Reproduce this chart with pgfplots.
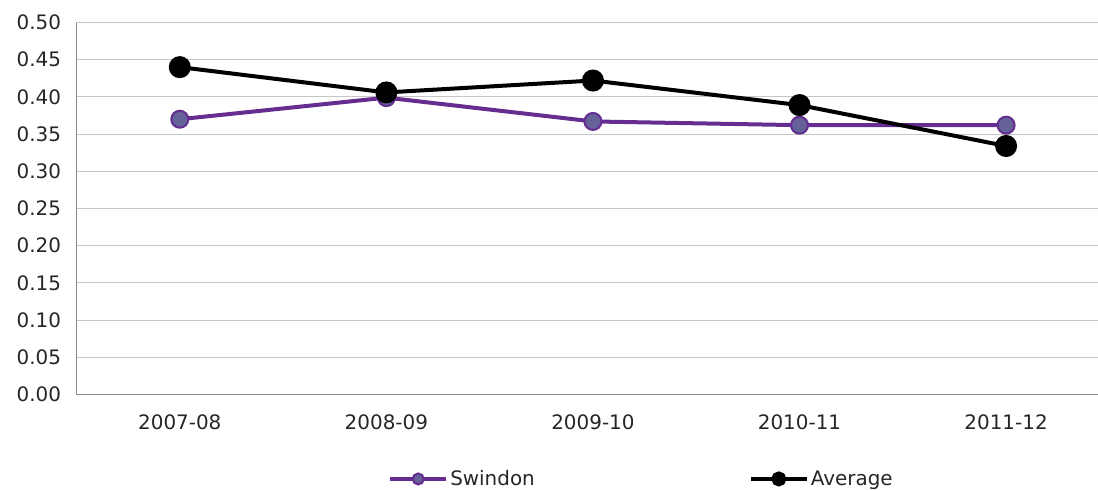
\documentclass[border=0pt]{standalone}
\usepackage{pgfplots}
\pgfplotsset{compat=1.18}
\usepackage{fontspec}
\setmainfont{DejaVu Sans}
\definecolor{swpurple}{HTML}{662D91}
\definecolor{swfill}{HTML}{65629A}
\definecolor{gridc}{HTML}{C6C6C6}
\definecolor{axc}{HTML}{898989}
\definecolor{txt}{HTML}{262626}
\begin{document}
\begin{tikzpicture}
\path[use as bounding box] (-76.5bp,-96.5bp) rectangle (1021.5bp,394.5bp);
\begin{axis}[
  at={(0,0)}, anchor=south west,
  scale only axis,
  width=1021.5bp, height=372bp,
  xmin=-0.5, xmax=4.445,
  ymin=0, ymax=0.5,
  xtick={0,1,2,3,4},
  xticklabels={2007-08,2008-09,2009-10,2010-11,2011-12},
  ytick={0,0.05,...,0.51},
  yticklabel style={/pgf/number format/fixed, /pgf/number format/fixed zerofill, /pgf/number format/precision=2, xshift=-12bp},
  /pgf/number format/assume math mode=true,
  tick label style={font=\fontsize{20}{24}\selectfont, text=txt},
  xticklabel style={yshift=-17bp},
  major tick length=0pt,
  axis x line*=bottom, axis y line*=left,
  axis line style={axc, line width=1.2bp, -},
  ymajorgrids, grid style={gridc, line width=0.9bp},
  clip=false,
  legend columns=2,
  legend style={at={(rel axis cs:0.305,-0.227)}, anchor=west, draw=none, fill=none,
    font=\fontsize{20}{24}\selectfont, text=txt,
    /tikz/every even column/.append style={column sep=212bp},
    inner sep=0pt, nodes={inner sep=2bp}},
  legend cell align=left,
  legend image code/.code={\draw[#1, mark size=5.5bp, mark repeat=2, mark phase=2] plot coordinates {(0bp,0bp) (28bp,0bp) (56bp,0bp)};},
]
\addplot[swpurple, line width=4bp, mark=*, mark size=8.5bp, mark options={fill=swfill, draw=swpurple, line width=2bp}]
  coordinates {(0,0.370) (1,0.399) (2,0.367) (3,0.362) (4,0.362)};
\addlegendentry{Swindon}
\addplot[black, line width=4bp, mark=*, mark size=9bp, mark options={fill=black}]
  coordinates {(0,0.440) (1,0.406) (2,0.422) (3,0.389) (4,0.334)};
\addlegendentry{Average}
\end{axis}
\end{tikzpicture}
\end{document}
